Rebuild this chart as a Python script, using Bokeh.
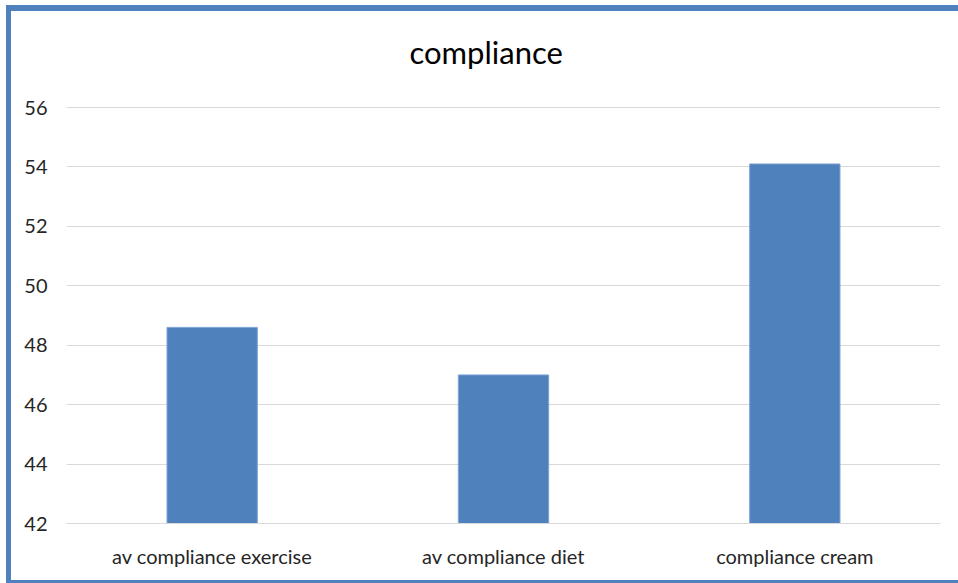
from bokeh.plotting import figure
from bokeh.embed import file_html
from bokeh.resources import INLINE
from bokeh.models import ColumnDataSource, FixedTicker, Label

categories = ["av compliance exercise", "av compliance diet", "compliance cream"]
values = [48.6, 47.0, 54.1]
y_ticks = [42, 44, 46, 48, 50, 52, 54, 56]
title_text = "compliance"

FONT = "Lato"
TEXT = "#262626"
BLUE = "#4F81BD"

# layout: plot frame spans the canvas top; axis 42..56 occupies the lower 416 px
FRAME_H = 512
AXIS_PX = 416
y_end = 56 + (FRAME_H - AXIS_PX) * (56 - 42) / AXIS_PX

src = ColumnDataSource(dict(cat=categories, val=values))

p = figure(x_range=categories, y_range=(42, y_end), width=952, height=578,
           output_backend="svg", toolbar_location=None, title=None,
           min_border_left=55, min_border_right=23, min_border_top=0,
           min_border_bottom=66)

p.vbar(x="cat", top="val", bottom=42, width=0.31, source=src,
       fill_color=BLUE, line_color="#7FA3D3", line_width=1)

lbl = Label(x=343, y=472, x_units="screen", y_units="screen", text=title_text,
            text_font=FONT, text_font_size="31px", text_color="#000000",
            text_align="left", text_baseline="alphabetic")
p.add_layout(lbl)

p.outline_line_color = None
p.background_fill_color = "white"
p.border_fill_color = "white"

p.xgrid.grid_line_color = None
p.ygrid.grid_line_color = "#D9D9D9"
p.ygrid.grid_line_width = 1
p.ygrid.ticker = FixedTicker(ticks=y_ticks)

p.yaxis.ticker = FixedTicker(ticks=y_ticks)
p.yaxis.axis_line_color = None
p.yaxis.major_tick_line_color = None
p.yaxis.minor_tick_line_color = None
p.yaxis.major_label_text_font = FONT
p.yaxis.major_label_text_font_size = "20px"
p.yaxis.major_label_text_color = TEXT
p.yaxis.major_label_standoff = 13

p.xaxis.axis_line_color = "#D9D9D9"
p.xaxis.major_tick_line_color = None
p.xaxis.minor_tick_line_color = None
p.xaxis.major_label_text_font = FONT
p.xaxis.major_label_text_font_size = "20px"
p.xaxis.major_label_text_color = TEXT
p.xaxis.major_label_standoff = 14

p.x_range.range_padding = 0
p.styles = {"margin-left": "6px", "margin-top": "5px",
            "border-left": f"5px solid {BLUE}", "border-top": f"6px solid {BLUE}",
            "border-bottom": f"3px solid {BLUE}"}

open("out.html", "w").write(file_html(p, INLINE))
